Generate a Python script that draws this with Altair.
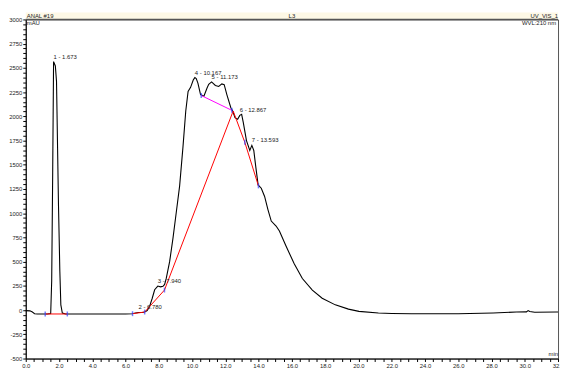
import altair as alt
import pandas as pd

# Chromatogram trace (min, mAU)
times = [0.0, 0.25, 0.4, 0.53, 0.7, 1.0, 1.3, 1.5, 1.56, 1.62, 1.673, 1.72, 1.78, 1.85, 1.97, 2.05, 2.11, 2.2, 2.4,
         3.0, 4.0, 5.0, 6.0, 6.4, 6.6, 6.78, 7.0, 7.15, 7.3, 7.45, 7.6, 7.75, 7.94, 8.1, 8.25, 8.35, 8.45, 8.65,
         8.85, 9.05, 9.25, 9.45, 9.62, 9.76, 9.91, 10.07, 10.167, 10.25, 10.35, 10.51, 10.71, 10.9, 11.0, 11.173,
         11.4, 11.6, 11.79, 11.93, 12.09, 12.33, 12.44, 12.58, 12.74, 12.867, 12.98, 13.08, 13.27, 13.47, 13.593,
         13.71, 13.83, 13.97, 14.16, 14.36, 14.56, 14.76, 15.05, 15.25, 15.64, 16.14, 16.63, 17.23, 17.82, 18.61,
         19.4, 20.03, 21.2, 22.0, 23.2, 26.0, 28.1, 29.5, 30.1, 30.2, 30.3, 30.6, 31.9, 32.0]
signal = [-5, -8, -20, -37, -40, -40, -40, -35, 300, 1414, 2565, 2545, 2520, 2360, 1071, 400, 54, -30, -40,
          -40, -40, -40, -40, -38, -30, -24, -24, -20, -5, 40, 120, 210, 248, 240, 245, 265, 330, 500,
          740, 1010, 1280, 1680, 2055, 2258, 2299, 2375, 2400, 2390, 2343, 2225, 2207, 2292, 2330, 2355,
          2319, 2309, 2335, 2327, 2225, 2089, 2055, 1987, 1970, 2010, 2021, 1936, 1750, 1648, 1700,
          1648, 1478, 1292, 1258, 1173, 1038, 919, 868, 817, 664, 478, 326, 207, 122, 54,
          10, -13, -30, -35, -38, -38, -30, -20, -18, -5, -15, -23, -20, -20]

# Integration baselines
base1_t = [1.17, 2.5]
base1_v = [-40, -40]
base2_t = [6.42, 7.15, 8.34, 12.47, 13.17, 13.99]
base2_v = [-37, -20, 207, 2055, 1732, 1282]
skim_t = [10.55, 12.39]
skim_v = [2215, 2062]

# Peak delimiter markers
mark_t = [1.17, 2.5, 6.42, 7.15, 8.34, 10.55, 12.39, 13.17, 13.99]
mark_v = [-40, -40, -37, -20, 207, 2215, 2062, 1732, 1282]

# Peak labels
peak_t = [1.673, 6.78, 7.94, 10.167, 11.173, 12.867, 13.593]
peak_v = [2565, -24, 248, 2400, 2355, 2010, 1700]
peak_lbl = ["1 - 1.673", "2 - 6.780", "3 - 7.940", "4 - 10.167", "5 - 11.173", "6 - 12.867", "7 - 13.593"]

FONT = "Liberation Sans"
W, H = 540, 344

xticks = [i * 0.5 for i in range(65)]
yticks = [-500 + 50 * i for i in range(71)]

xs = alt.Scale(domain=[0, 32], nice=False, zero=False)
ys = alt.Scale(domain=[-500, 3000], nice=False, zero=False)

xaxis = alt.Axis(values=xticks, title=None, grid=False, labelFlush=False, labelOverlap=False,
                 labelExpr="datum.value % 2 === 0 ? format(datum.value, '.1f') : ''",
                 ticks=True, tickSize=3, labelPadding=1, labelFontSize=6, labelFont=FONT, labelColor="#222",
                 domainColor="#000", tickColor="#000")
yaxis = alt.Axis(values=yticks, title=None, grid=False, labelOverlap=False, labelFlush=False,
                 labelExpr="datum.value % 250 === 0 ? '' + datum.value : ''",
                 ticks=True, tickSize=3, labelPadding=1, labelFontSize=6, labelFont=FONT, labelColor="#222",
                 domainColor="#000", tickColor="#000")

X = alt.X("t:Q", scale=xs, axis=xaxis)
Y = alt.Y("v:Q", scale=ys, axis=yaxis)

trace = pd.DataFrame({"t": times, "v": signal})
line = alt.Chart(trace).mark_line(color="#000", strokeWidth=1.1).encode(x=X, y=Y, order="t:Q")

def seg(ts, vs, color):
    df = pd.DataFrame({"t": ts, "v": vs, "i": list(range(len(ts)))})
    return alt.Chart(df).mark_line(color=color, strokeWidth=1).encode(x=X, y=Y, order="i:Q")

b1 = seg(base1_t, base1_v, "#ff0000")
b2 = seg(base2_t, base2_v, "#ff0000")
sk = seg(skim_t, skim_v, "#ff00ff")

marks = alt.Chart(pd.DataFrame({"t": mark_t, "v": mark_v})).mark_tick(
    color="#3344ff", orient="vertical", size=5, thickness=1.5).encode(x=X, y=Y)

labels = alt.Chart(pd.DataFrame({"t": peak_t, "v": peak_v, "lbl": peak_lbl})).mark_text(
    align="left", baseline="bottom", dy=-2, fontSize=6, font=FONT, color="#222").encode(
    x=X, y=Y, text="lbl:N")

one = pd.DataFrame({"a": [0]})
band = alt.Chart(one).mark_rect(color="#fdf8e6").encode(
    x=alt.value(0), x2=alt.value(W), y=alt.value(-7), y2=alt.value(0))
topline = alt.Chart(one).mark_rule(color="#555", strokeWidth=1.6).encode(
    x=alt.value(0), x2=alt.value(W), y=alt.value(0))

def txt(s, x, y, align):
    return alt.Chart(one).mark_text(align=align, baseline="middle", fontSize=6, font=FONT,
                                    color="#222").encode(x=alt.value(x), y=alt.value(y), text=alt.value(s))

hdr = [
    txt("ANAL #19", 1, -3.5, "left"),
    txt("L3", 270, -3.5, "center"),
    txt("UV_VIS_1", 540, -3.5, "right"),
    txt("mAU", 1, 4, "left"),
    txt("WVL:210 nm", 538, 4, "right"),
    txt("min", 540, 339, "right"),
]

chart = alt.layer(line, band, b1, b2, sk, marks, labels, topline, *hdr).properties(
    width=W, height=H,
    autosize=alt.AutoSizeParams(type="none"),
    padding={"left": 18, "top": 9, "right": 2, "bottom": 9},
).configure_view(stroke="#555", strokeWidth=1)

chart.save("out.html", embed_options={"renderer": "svg", "actions": False})
